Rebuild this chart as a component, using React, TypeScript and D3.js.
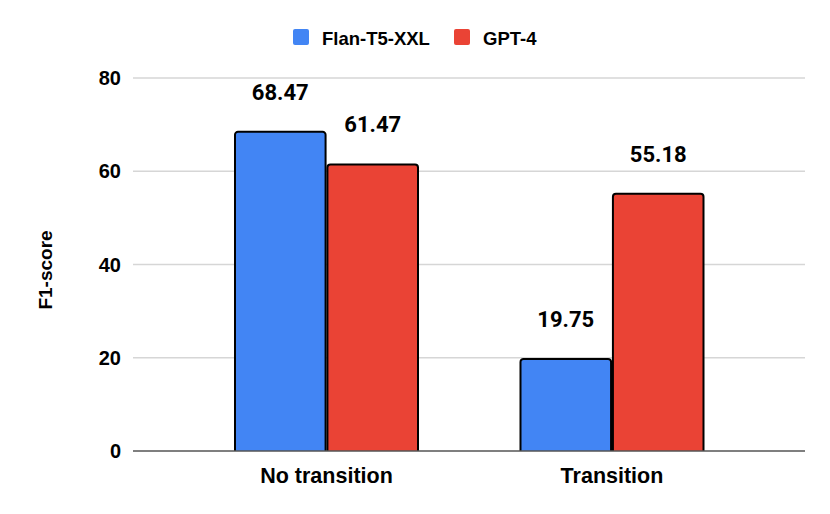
import React from 'react';
import * as d3 from "d3";

const categories = ["No transition", "Transition"];
const seriesNames = ["Flan-T5-XXL", "GPT-4"];
const flanValues = [68.47, 19.75];
const gptValues = [61.47, 55.18];
const yTicks = [0, 20, 40, 60, 80];
const colors = ["#4285F4", "#EA4335"];

const width = 830;
const height = 514;
const plot = { left: 133, right: 805, top: 78, bottom: 451 };

const topRounded = (x: number, y: number, w: number, h: number, r: number) => {
    const p = d3.path();
    p.moveTo(x, y + h);
    p.lineTo(x, y + r);
    p.arcTo(x, y, x + r, y, r);
    p.lineTo(x + w - r, y);
    p.arcTo(x + w, y, x + w, y + r, r);
    p.lineTo(x + w, y + h);
    return p.toString();
};

const App = () => {
    const yScale = d3.scaleLinear().domain([0, 80]).range([plot.bottom, plot.top]);
    const xOuter = d3.scaleBand<string>()
        .domain(categories)
        .range([183.75, 754.75])
        .paddingInner(0.359)
        .paddingOuter(0.1795);
    const xInner = d3.scaleBand<string>()
        .domain(seriesNames)
        .range([0, xOuter.bandwidth()])
        .paddingInner(0.02);

    const values = [flanValues, gptValues];
    const sans = "'Liberation Sans', Arial, sans-serif";

    return (
        <div style={{ position: "absolute", left: 0, top: 0 }}>
            <svg width={width} height={height} style={{ display: "block", background: "#fff" }}>
                {yTicks.filter(t => t !== 0).map(t => (
                    <line key={t} x1={plot.left} x2={plot.right} y1={yScale(t)} y2={yScale(t)}
                        stroke="#d6d6d6" strokeWidth={1.3} />
                ))}
                {yTicks.map(t => (
                    <text key={t} x={121} y={yScale(t) + 7} textAnchor="end"
                        fontFamily={sans} fontWeight="bold" fontSize={20} fill="#000">{t}</text>
                ))}
                <text transform="translate(52,270) rotate(-90)" textAnchor="middle"
                    fontFamily={sans} fontWeight="bold" fontSize={19} fill="#000">F1-score</text>

                {categories.map((c, ci) => (
                    <g key={c} transform={`translate(${xOuter(c)},0)`}>
                        {seriesNames.map((s, si) => {
                            const v = values[si][ci];
                            const x = xInner(s) as number;
                            const w = xInner.bandwidth();
                            const y = yScale(v);
                            return (
                                <g key={s}>
                                    <path d={topRounded(x, y, w, plot.bottom - y, 3)}
                                        fill={colors[si]} stroke="#000" strokeWidth={2} />
                                    <text x={x + w / 2} y={y - 32} textAnchor="middle"
                                        fontFamily="Roboto, sans-serif" fontWeight="bold" fontSize={22}
                                        fill="#000">{v.toFixed(2)}</text>
                                </g>
                            );
                        })}
                        <text x={xOuter.bandwidth() / 2} y={483} textAnchor="middle"
                            fontFamily={sans} fontWeight="bold" fontSize={21.5} fill="#000">{c}</text>
                    </g>
                ))}

                <line x1={plot.left} x2={plot.right} y1={plot.bottom} y2={plot.bottom}
                    stroke="#555" strokeWidth={1.5} />

                {seriesNames.map((s, i) => {
                    const lx = [293, 454][i];
                    return (
                        <g key={s}>
                            <rect x={lx} y={29} width={16} height={16} rx={2} fill={colors[i]} />
                            <text x={lx + 29} y={44.5} fontFamily={sans} fontWeight="bold"
                                fontSize={18.5} fill="#000">{s}</text>
                        </g>
                    );
                })}
            </svg>
        </div>
    );
};

export default App;
